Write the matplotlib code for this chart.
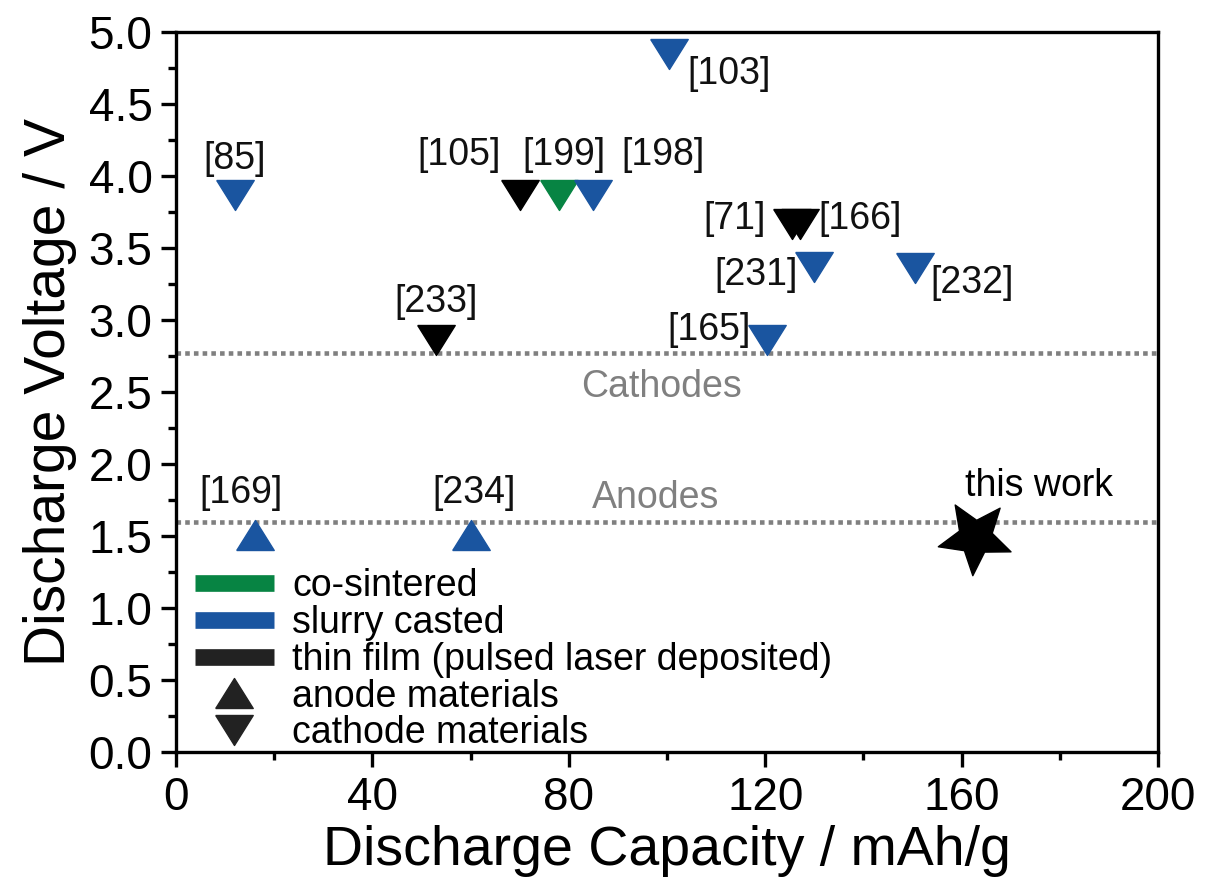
import matplotlib as mpl
mpl.use('Agg')
import matplotlib.pyplot as plt
from matplotlib.lines import Line2D
from matplotlib.path import Path
from matplotlib.transforms import Affine2D
from matplotlib.ticker import MultipleLocator, FormatStrFormatter

plt.rcParams['font.family'] = ['Liberation Sans', 'DejaVu Sans']

# literature values
refs = ['[103]', '[85]', '[105]', '[199]', '[198]', '[71]', '[166]',
        '[231]', '[232]', '[233]', '[165]', '[169]', '[234]']
capacity = [100.5, 12, 70, 78, 85, 125.4, 127.1, 130, 150.5, 53, 120.3, 16, 60]
voltage = [4.85, 3.87, 3.87, 3.87, 3.87, 3.67, 3.67, 3.37, 3.36, 2.86, 2.86, 1.51, 1.51]
process = ['slurry', 'slurry', 'film', 'cosint', 'slurry', 'film', 'film',
           'slurry', 'slurry', 'film', 'slurry', 'slurry', 'slurry']
electrode = ['cathode'] * 11 + ['anode'] * 2

# this work
own_capacity = 162.8
own_voltage = 1.49

cathode_level = 2.77
anode_level = 1.6

colors = {'cosint': '#078443', 'slurry': '#1a55a0', 'film': '#000000'}

# label offsets in pixels (dx, dy)
offsets = [(60, -20), (0, 36), (-61, 40), (5, 40), (70, 40), (-57, 5), (60, 5),
           (-58, -8), (57, -15), (0, 38), (-58, 10), (-14, 42), (3, 42)]

# Origin-style flat triangles
tri_down = Path([(-1, 0.8), (1, 0.8), (0, -0.8), (-1, 0.8)])
tri_up = Path([(-1, -0.8), (1, -0.8), (0, 0.8), (-1, -0.8)])
markers = {'cathode': tri_down, 'anode': tri_up}

# slightly tilted five-point star
star = Path.unit_regular_star(5, 0.45).transformed(Affine2D().rotate_deg(32))

fig = plt.figure(figsize=(12.1, 8.94), dpi=100)
ax = fig.add_axes([0.1455, 0.1588, 0.8115, 0.8053])

for level in (cathode_level, anode_level):
    ax.axhline(level, color='#808080', lw=3.3, ls=(0, (1, 0.9)), zorder=1)
ax.text(98.8, 2.465, 'Cathodes', color='#808080', fontsize=27,
        ha='center', va='baseline')
ax.text(97.7, 1.694, 'Anodes', color='#808080', fontsize=27,
        ha='center', va='baseline')

for x, y, r, p, e, off in zip(capacity, voltage, refs, process, electrode, offsets):
    ax.plot(x, y, marker=markers[e], ms=27, color=colors[p], ls='none', zorder=3)
    ax.annotate(r, (x, y), xytext=off, textcoords='offset pixels',
                ha='center', va='center', fontsize=27, color='#111111')

ax.plot(own_capacity, own_voltage, marker=star, ms=55, color='black', ls='none', zorder=3)
ax.annotate('this work', (own_capacity, own_voltage), xytext=(64, 51),
            textcoords='offset pixels', ha='center', va='center', fontsize=27)

handles = [
    Line2D([], [], color=colors['cosint'], lw=12, solid_capstyle='butt'),
    Line2D([], [], color=colors['slurry'], lw=12, solid_capstyle='butt'),
    Line2D([], [], color='#222222', lw=12, solid_capstyle='butt'),
    Line2D([], [], color='#222222', marker=tri_up, ms=27, ls='none'),
    Line2D([], [], color='#222222', marker=tri_down, ms=27, ls='none'),
]
labels = ['co-sintered', 'slurry casted', 'thin film (pulsed laser deposited)',
          'anode materials', 'cathode materials']
ax.legend(handles, labels, loc='lower left', bbox_to_anchor=(0.0, -0.025),
          frameon=False, fontsize=27, handlelength=2.1, handletextpad=0.5,
          labelspacing=0.02, borderpad=0.3, borderaxespad=0.2)

ax.set_xlim(0, 200)
ax.set_ylim(0, 5)
ax.xaxis.set_major_locator(MultipleLocator(40))
ax.xaxis.set_minor_locator(MultipleLocator(20))
ax.yaxis.set_major_locator(MultipleLocator(0.5))
ax.yaxis.set_minor_locator(MultipleLocator(0.25))
ax.yaxis.set_major_formatter(FormatStrFormatter('%.1f'))

for s in ax.spines.values():
    s.set_linewidth(2.4)
ax.tick_params(which='major', direction='out', length=11, width=2.4,
               labelsize=33, pad=6)
ax.tick_params(which='minor', direction='out', length=6, width=2.4)

ax.set_xlabel('Discharge Capacity / mAh/g', fontsize=40, labelpad=4)
ax.set_ylabel('Discharge Voltage / V', fontsize=41, labelpad=8)

plt.savefig('out.png', dpi=100)
